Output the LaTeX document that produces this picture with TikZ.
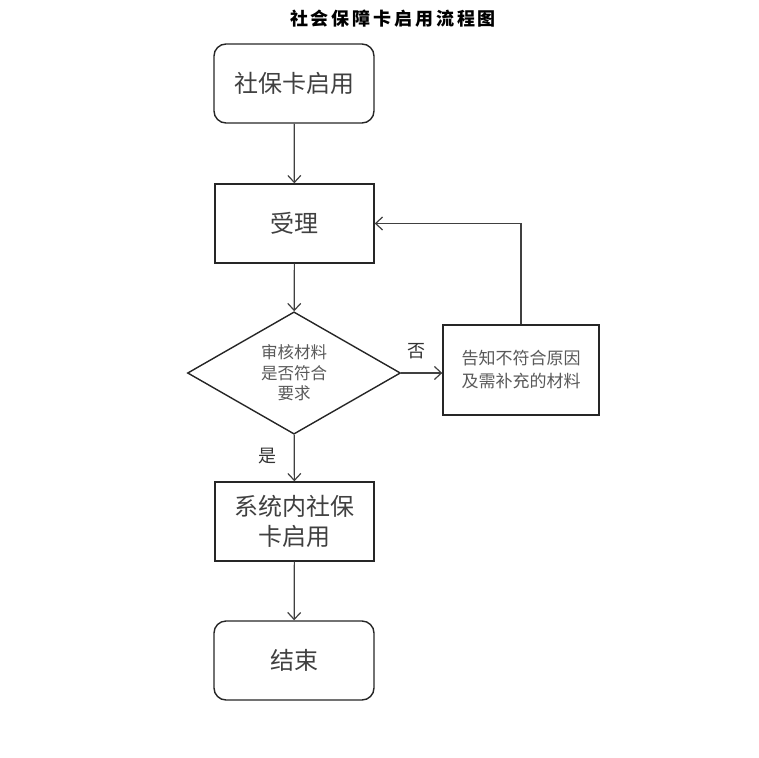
\documentclass[tikz,border=0pt]{standalone}
\usepackage{fontspec}
\setmainfont{Noto Sans CJK SC}
\usepackage{tikz}
\usetikzlibrary{shapes.geometric, arrows.meta, positioning}

\begin{document}
\begin{tikzpicture}[
    x=1pt, y=-1pt,
    % box styles
    termbox/.style={rectangle, draw=black!85, rounded corners=12pt, line width=1.4pt, minimum width=160pt, minimum height=79pt, align=center, font=\fontsize{24}{28}\selectfont, text=black!75},
    procbox/.style={rectangle, draw=black!85, line width=1.4pt, minimum width=159pt, minimum height=79pt, align=center, font=\fontsize{24}{30}\selectfont, text=black!75},
    notebox/.style={rectangle, draw=black!85, line width=1.4pt, minimum width=156pt, minimum height=90pt, align=center, font=\fontsize{17}{23}\selectfont, text=black!65},
    checkbox/.style={diamond, draw=black!85, line width=1.4pt, minimum width=213pt, minimum height=118pt, inner sep=0pt, align=center, font=\fontsize{16.5}{20.5}\selectfont, text=black!65},
    arrow/.style={-{Straight Barb[length=7pt, width=13pt]}, line width=1.2pt, color=black!75},
    labeltext/.style={font=\fontsize{18}{20}\selectfont, text=black!80}
]

% canvas
\useasboundingbox (0,0) rectangle (759,757);

% title
\node[font=\fontsize{18}{20}\selectfont\bfseries\addfontfeature{LetterSpace=16}] (title) at (393, 19) {社会保障卡启用流程图};

% main column
\node[termbox] (start) at (294, 83.5) {社保卡启用};
\node[procbox] (accept) at (294.5, 223.5) {受理};
\node[checkbox] (check) at (294, 373) {审核材料\\是否符合\\要求};
\node[notebox] (notify) at (521, 370) {告知不符合原因\\及需补充的材料};
\node[procbox] (enable) at (294.5, 521.5) {系统内社保\\卡启用};
\node[termbox] (finish) at (294, 660.5) {结束};

% connectors
\draw[arrow] (start) -- (accept);
\draw[arrow] (accept) -- (check);
\draw[arrow] (check.east) -- (notify.west |- check.east);
\draw[arrow] (notify.north) |- (accept.east);
\draw[arrow] (check) -- (enable);
\draw[arrow] (enable) -- (finish);

% branch labels
\node[labeltext] (no) at (416, 351) {否};
\node[labeltext] (yes) at (267, 456) {是};

\end{tikzpicture}
\end{document}
